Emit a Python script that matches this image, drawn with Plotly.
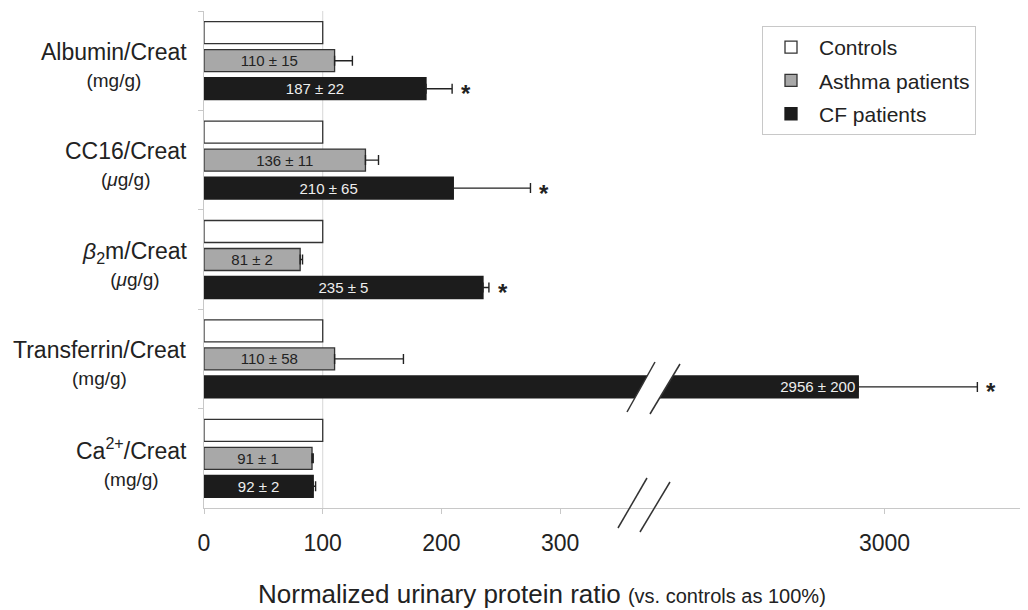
import plotly.graph_objects as go

# ---------------- data ----------------
categories = ["Albumin", "CC16", "B2m", "Transferrin", "Ca"]
label_main = ["Albumin/Creat", "CC16/Creat", "<i>β</i><sub>2</sub>m/Creat",
              "Transferrin/Creat", "Ca<sup>2+</sup>/Creat"]
label_unit = ["(mg/g)", "(<i>μ</i>g/g)", "(<i>μ</i>g/g)", "(mg/g)", "(mg/g)"]

controls = [100, 100, 100, 100, 100]
asthma = [110, 136, 81, 110, 91]
asthma_err = [15, 11, 2, 58, 1]
cf = [187, 210, 235, 2956, 92]
cf_err = [22, 65, 5, 200, 2]
cf_significant = [True, True, True, True, False]

left_ticks = [0, 100, 200, 300]
right_ticks = [3000]
control_ref = 100

# ---------------- layout constants ----------------
# the page body has an 8px margin, so the figure is placed at (8, 8)
OFF = 8
W, H = 1028 - OFF, 610 - OFF
PLOT_L, PLOT_T, PLOT_B = 204, 11, 508          # page pixel positions
ML, MT, MR = PLOT_L - OFF, PLOT_T - OFF, 0
MB = H - (PLOT_B - OFF)
PW, PH = W - ML - MR, H - MT - MB
BREAK_PX = 648
D = (BREAK_PX - PLOT_L) / PW
AX1_RANGE = [0, 374]
AX2_RANGE = [2603, 3241]

FONT = "Arial, Liberation Sans, sans-serif"
AXIS_COLOR = "#c8c8c8"
TEXT_COLOR = "#222222"


def px_x(px):
    return (px - PLOT_L) / PW


def px_y(py):
    return (PLOT_B - py) / PH


fig = go.Figure()

series = [
    dict(name="Controls", x=controls, err=None, fill="#ffffff", line="#333333", tcol=TEXT_COLOR),
    dict(name="Asthma patients", x=asthma, err=asthma_err, fill="#a8a8a8", line="#333333", tcol=TEXT_COLOR),
    dict(name="CF patients", x=cf, err=cf_err, fill="#1c1c1c", line="#1c1c1c", tcol="#eeeeee"),
]

for s in series:
    has_text = s["err"] is not None
    for ax in ("x", "x2"):
        texts = []
        for v, e in zip(s["x"], s["err"] or [0] * len(s["x"])):
            on_right = v > AX1_RANGE[1]
            show = has_text and ((ax == "x2") == on_right)
            texts.append(f"{v} ± {e}" if show else "")
        err = None
        if s["err"] is not None:
            err = dict(type="data", array=s["err"], arrayminus=[0] * len(s["err"]),
                       symmetric=False, color="#222222", thickness=1.4, width=5)
        fig.add_trace(go.Bar(
            name=s["name"], y=categories, x=s["x"], orientation="h",
            xaxis=ax, yaxis="y",
            marker=dict(color=s["fill"], line=dict(color=s["line"], width=1.3)),
            error_x=err,
            text=texts, textposition="inside",
            insidetextanchor="end" if ax == "x2" else "middle",
            textfont=dict(size=15, color=s["tcol"], family=FONT),
            constraintext="none",
            legendgroup=s["name"], showlegend=(ax == "x"),
            hoverinfo="skip",
        ))

annotations = []
# category labels
for cat, m, u in zip(categories, label_main, label_unit):
    annotations.append(dict(
        xref="paper", x=px_x(189), xanchor="right",
        yref="y", y=cat, yanchor="middle", yshift=-4,
        text=f"<span style='font-size:23px'>{m}</span><br><span style='font-size:19px'>{u}</span>",
        font=dict(size=21, color=TEXT_COLOR, family=FONT),
        align="center", showarrow=False,
    ))

# significance stars
for cat, v, e, sig in zip(categories, cf, cf_err, cf_significant):
    if not sig:
        continue
    ax = "x2" if v > AX1_RANGE[1] else "x"
    annotations.append(dict(
        xref=ax, x=v + e, xanchor="center", xshift=14,
        yref="y", y=cat, yanchor="middle", yshift=-33,
        text="<b>*</b>", font=dict(size=24, color=TEXT_COLOR, family=FONT),
        showarrow=False,
    ))

# x-axis title
annotations.append(dict(
    xref="paper", x=px_x(256), xanchor="left",
    yref="paper", y=px_y(594), yanchor="middle",
    text="Normalized urinary protein ratio <span style='font-size:20px'>(vs. controls as 100%)</span>",
    font=dict(size=26, color=TEXT_COLOR, family=FONT),
    showarrow=False,
))

shapes = [
    # 100 % reference line
    dict(type="line", xref="x", x0=control_ref, x1=control_ref, yref="paper", y0=0, y1=1,
         line=dict(color="#d6d6d6", width=1), layer="below"),
    # white gap in the broken bar
    dict(type="path", xref="paper", yref="paper",
         path=(f"M{px_x(655)},{px_y(362)} L{px_x(680)},{px_y(364)} "
               f"L{px_x(650)},{px_y(414)} L{px_x(627)},{px_y(412)} Z"),
         fillcolor="#ffffff", line=dict(width=0), layer="above"),
]
for (x0, y0, x1, y1) in [(655, 362, 627, 412), (680, 364, 650, 414),
                         (647, 478, 618, 528), (670, 482, 640, 532)]:
    shapes.append(dict(type="line", xref="paper", yref="paper",
                       x0=px_x(x0), y0=px_y(y0), x1=px_x(x1), y1=px_y(y1),
                       line=dict(color="#333333", width=1.5), layer="above"))

axis_common = dict(
    showline=True, linecolor=AXIS_COLOR, linewidth=1,
    ticks="outside", ticklen=5, tickcolor=AXIS_COLOR,
    tickfont=dict(size=23, color=TEXT_COLOR, family=FONT),
    showgrid=False, zeroline=False, ticklabelstandoff=9,
)

fig.update_layout(
    width=W, height=H,
    margin=dict(l=ML, r=MR, t=MT, b=MB),
    paper_bgcolor="white", plot_bgcolor="white",
    font=dict(family=FONT, color=TEXT_COLOR),
    barmode="group", bargap=0.155, bargroupgap=0.214,
    xaxis=dict(domain=[0, D], range=AX1_RANGE, tickvals=left_ticks, **axis_common),
    xaxis2=dict(domain=[D, 1], range=AX2_RANGE, tickvals=right_ticks, anchor="y", **axis_common),
    yaxis=dict(type="category", categoryarray=categories, categoryorder="array",
               range=[len(categories) - 0.5, -0.5],
               showline=True, linecolor=AXIS_COLOR, ticks="outside", tickson="boundaries",
               ticklen=5, tickcolor=AXIS_COLOR, showticklabels=False, showgrid=False,
               zeroline=False),
    legend=dict(x=px_x(762), y=px_y(26), xanchor="left", yanchor="top",
                bordercolor=AXIS_COLOR, borderwidth=1, bgcolor="white",
                font=dict(size=21, color=TEXT_COLOR, family=FONT),
                traceorder="grouped", tracegroupgap=3, itemwidth=46),
    annotations=annotations,
    shapes=shapes,
    showlegend=True,
)

fig.write_html("out.html")
